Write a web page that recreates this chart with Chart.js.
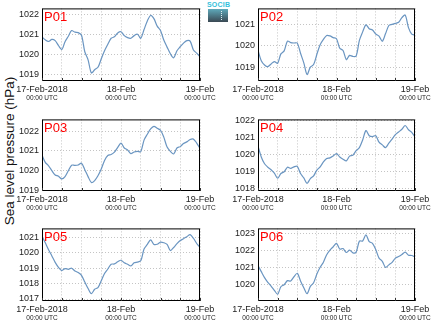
<!DOCTYPE html>
<html>
<head>
<meta charset="utf-8">
<script src="https://cdn.jsdelivr.net/npm/chart.js@4.4.1/dist/chart.umd.min.js"></script>
<style>
  html, body { margin: 0; padding: 0; background: #fff; }
  body { width: 434px; height: 327px; overflow: hidden; position: relative; font-family: "Liberation Sans", Arial, sans-serif; }
  canvas { position: absolute; }
  #ylabel { position: absolute; left: 9px; top: 151px; transform: translate(-50%, -50%) rotate(-90deg); font-size: 13.5px; white-space: nowrap; color: #111; }
  #logoText { position: absolute; left: 207px; top: 1px; font-size: 7px; font-weight: bold; color: #35bfdc; letter-spacing: 0.2px; }
  #logoBox { position: absolute; left: 208px; top: 9px; width: 20px; height: 13px; background: linear-gradient(#5ea9ba, #3a4853); }
  #logoDots { position: absolute; left: 221px; top: 11px; height: 9px; border-left: 1px dotted #dfeff2; }
</style>
</head>
<body>
<div id="ylabel">Sea level pressure (hPa)</div>
<div id="logoText">SOCIB</div>
<div id="logoBox"></div>
<div id="logoDots"></div>

<script>
// hourly sea level pressure, 17-Feb-2018 00:00 UTC to 19-Feb 00:00 UTC
const panelNames = ['P01', 'P02', 'P03', 'P04', 'P05', 'P06'];
const dayLabels = ['17-Feb-2018', '18-Feb', '19-Feb'];
const labelHours = [0, 24, 48];
const timeLabel = '00:00 UTC';

const p01 = [1020.89, 1020.74, 1020.66, 1020.76, 1020.70, 1020.46, 1020.26, 1020.65, 1020.92, 1021.20,
  1021.12, 1021.10, 1020.97, 1020.15, 1019.75, 1019.10, 1019.26, 1019.38, 1019.80, 1020.20,
  1020.52, 1020.82, 1020.89, 1021.08, 1021.14, 1020.95, 1020.85, 1020.82, 1020.95, 1021.02,
  1020.82, 1021.25, 1021.68, 1021.95, 1021.79, 1021.42, 1021.20, 1020.73, 1020.38, 1020.05,
  1019.85, 1020.20, 1020.40, 1020.58, 1020.70, 1020.68, 1020.24, 1020.08, 1019.91];
const p02 = [1019.79, 1019.30, 1019.10, 1019.02, 1019.15, 1019.26, 1019.18, 1019.62, 1019.76, 1020.22,
  1020.15, 1020.13, 1020.13, 1019.65, 1019.20, 1018.65, 1019.00, 1019.12, 1019.60, 1020.05,
  1020.30, 1020.48, 1020.46, 1020.38, 1020.33, 1019.88, 1019.78, 1019.35, 1019.55, 1019.50,
  1019.52, 1020.25, 1020.65, 1020.98, 1020.80, 1020.74, 1020.55, 1020.45, 1020.21, 1020.57,
  1020.95, 1021.00, 1021.05, 1021.10, 1021.32, 1021.44, 1020.85, 1020.55, 1020.50];
const p03 = [1020.79, 1020.42, 1020.25, 1020.00, 1019.78, 1019.72, 1019.58, 1019.70, 1020.00, 1020.28,
  1020.27, 1020.29, 1020.38, 1020.05, 1019.70, 1019.40, 1019.50, 1019.74, 1020.08, 1020.52,
  1020.77, 1020.82, 1020.94, 1021.18, 1021.40, 1021.15, 1021.05, 1020.86, 1020.95, 1020.98,
  1020.96, 1021.55, 1021.85, 1022.12, 1022.25, 1022.15, 1022.05, 1021.70, 1021.20, 1020.98,
  1020.85, 1021.15, 1021.22, 1021.38, 1021.46, 1021.58, 1021.60, 1021.40, 1021.13];
const p04 = [1020.50, 1019.85, 1019.45, 1019.25, 1019.10, 1018.90, 1018.60, 1018.88, 1018.98, 1019.25,
  1019.18, 1019.27, 1019.30, 1018.88, 1018.62, 1018.30, 1018.58, 1018.74, 1019.08, 1019.27,
  1019.56, 1019.76, 1019.80, 1019.91, 1020.05, 1019.85, 1019.72, 1019.62, 1019.90, 1019.95,
  1020.22, 1020.40, 1020.85, 1021.40, 1021.10, 1021.05, 1021.10, 1020.72, 1020.56, 1020.40,
  1020.66, 1020.90, 1021.16, 1021.32, 1021.48, 1021.70, 1021.45, 1021.30, 1021.03];
const p05 = [1021.09, 1020.65, 1020.20, 1019.80, 1019.38, 1019.06, 1018.85, 1018.98, 1018.93, 1019.00,
  1018.82, 1018.72, 1018.54, 1018.10, 1017.68, 1017.35, 1017.63, 1017.74, 1018.18, 1018.66,
  1018.95, 1019.26, 1019.28, 1019.42, 1019.52, 1019.35, 1019.26, 1019.15, 1019.36, 1019.40,
  1019.48, 1020.25, 1020.55, 1020.85, 1020.55, 1020.56, 1020.70, 1020.66, 1020.55, 1020.15,
  1020.35, 1020.60, 1020.80, 1020.92, 1021.05, 1021.18, 1020.95, 1020.61, 1020.35];
const p06 = [1021.11, 1020.75, 1020.40, 1020.12, 1019.90, 1019.65, 1019.42, 1019.86, 1019.98, 1020.22,
  1020.20, 1020.45, 1020.65, 1020.20, 1019.80, 1019.45, 1019.88, 1020.10, 1020.61, 1021.01,
  1021.31, 1021.75, 1022.02, 1022.22, 1022.42, 1022.08, 1022.11, 1021.88, 1022.02, 1021.86,
  1021.90, 1022.55, 1022.56, 1022.92, 1022.52, 1022.42, 1022.05, 1021.55, 1021.36, 1021.00,
  1021.15, 1021.30, 1021.55, 1021.64, 1021.76, 1021.90, 1021.72, 1021.70, 1021.61];

const yMin = [1018.7, 1018.35, 1018.97, 1017.85, 1016.87, 1019.02];
const yMax = [1022.3, 1021.75, 1022.6, 1022.06, 1021.59, 1023.3];

const allSeries = [p01, p02, p03, p04, p05, p06];

// plot rectangles: left, top, width, height
const boxes = [
  [42, 8, 158, 73], [258, 8, 157, 73],
  [42, 119, 158, 72], [258, 119, 157, 72],
  [42, 228, 158, 73], [258, 228, 157, 73]
];

const FONT = '"Liberation Sans", Arial, sans-serif';

const framePlugin = {
  id: 'frame',
  afterDraw(chart) {
    const { ctx, chartArea: a, scales: { x } } = chart;
    ctx.save();
    ctx.strokeStyle = '#000';
    ctx.lineWidth = 1;
    ctx.strokeRect(a.left + 0.5, a.top + 0.5, a.right - a.left - 1, a.bottom - a.top - 1);
    // small inner ticks on the time axis
    ctx.strokeStyle = '#333';
    x.ticks.forEach(t => {
      const px = Math.round(x.getPixelForValue(t.value)) + 0.5;
      ctx.beginPath();
      ctx.moveTo(px, a.bottom);
      ctx.lineTo(px, a.bottom - 3);
      ctx.stroke();
    });
    ctx.fillStyle = '#222';
    ctx.textAlign = 'center';
    ctx.textBaseline = 'middle';
    labelHours.forEach((h, i) => {
      const px = x.getPixelForValue(h);
      ctx.font = '9px ' + FONT;
      ctx.fillText(dayLabels[i], px, a.bottom + 9);
      ctx.font = '6.5px ' + FONT;
      ctx.fillText(timeLabel, px, a.bottom + 17.5);
    });
    ctx.fillStyle = '#ff0000';
    ctx.font = '13px ' + FONT;
    ctx.textAlign = 'left';
    ctx.textBaseline = 'top';
    ctx.fillText(chart.options.plugins.frame.name, a.left + 2, a.top + 3);
    ctx.restore();
  }
};

allSeries.forEach((series, i) => {
  const [left, top, w, h] = boxes[i];
  const canvas = document.createElement('canvas');
  const cw = w + 42 + 19;
  const ch = h + 8 + 30;
  canvas.width = cw;
  canvas.height = ch;
  canvas.style.left = (left - 42) + 'px';
  canvas.style.top = (top - 8) + 'px';
  canvas.style.width = cw + 'px';
  canvas.style.height = ch + 'px';
  document.body.appendChild(canvas);

  new Chart(canvas.getContext('2d'), {
    type: 'line',
    data: {
      datasets: [{
        data: series.map((v, k) => ({ x: k, y: v })),
        borderColor: '#6a95c1',
        borderWidth: 1.2,
        pointRadius: 0,
        tension: 0.3,
        fill: false
      }]
    },
    options: {
      responsive: false,
      animation: false,
      devicePixelRatio: 1,
      layout: { padding: { left: 0, top: 8, right: 19, bottom: 0 } },
      plugins: {
        legend: { display: false },
        tooltip: { enabled: false },
        frame: { name: panelNames[i] }
      },
      scales: {
        x: {
          type: 'linear',
          min: 0,
          max: 48,
          afterFit(s) { s.height = 30; },
          ticks: { display: false, stepSize: 6 },
          grid: { color: '#c4c4c4', drawTicks: false },
          border: { display: false, dash: [1, 2] }
        },
        y: {
          min: yMin[i],
          max: yMax[i],
          afterFit(s) { s.width = 42; },
          ticks: {
            stepSize: 1,
            includeBounds: false,
            color: '#222',
            padding: 3,
            font: { family: FONT, size: 9 },
            callback: v => String(Math.round(v))
          },
          grid: { color: '#c4c4c4', drawTicks: false },
          border: { display: false, dash: [1, 2] }
        }
      }
    },
    plugins: [framePlugin]
  });
});
</script>
</body>
</html>
